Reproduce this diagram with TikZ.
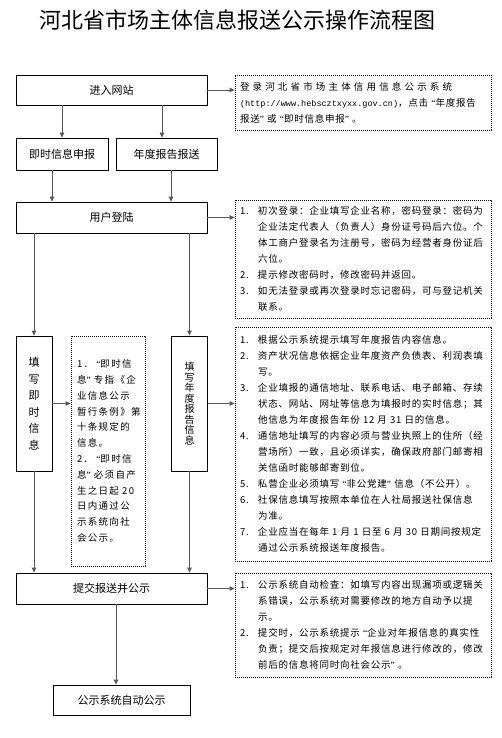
\documentclass[tikz,border=0pt]{standalone}
\usepackage{fontspec}
\setmainfont{Noto Sans CJK SC}
\newfontfamily\notefont[LetterSpace=8]{Noto Sans CJK SC}
\newfontfamily\widefont[LetterSpace=14]{Noto Sans CJK SC}
\newfontfamily\urlfont{Liberation Mono}
\newfontfamily\quotefont{Liberation Serif}
\usetikzlibrary{arrows.meta, positioning}
\newcommand{\nitem}[1]{\makebox[18pt][l]{#1.}}
\newcommand{\ncont}{\hspace*{18pt}}
\newcommand{\oq}{{\quotefont\ “}}
\newcommand{\cq}{{\quotefont ”\ }}

\begin{document}
\begin{tikzpicture}[
    x=1pt, y=-1pt,
    font=\fontsize{11}{13}\selectfont,
    stepbox/.style={rectangle, draw=black, line width=0.8pt, align=center, inner sep=0pt},
    note/.style={rectangle, draw=black, line width=0.8pt, dash pattern=on 0.8pt off 1.2pt, align=left, inner xsep=5pt, inner ysep=0pt, text width=246pt, font=\notefont\fontsize{9.5}{16}\selectfont},
    arr/.style={-{Triangle[length=5pt,width=4.5pt]}, line width=0.8pt, black!65},
  ]
  \fill[white] (0,0) rectangle (502,738);
  \useasboundingbox (0,0) rectangle (502,738);

  \node[font=\fontsize{22}{26}\selectfont] (title) at (237,20) {河北省市场主体信息报送公示操作流程图};

  % main steps
  \node[stepbox, minimum width=191pt, minimum height=30pt] (enter) at (111.5,90) {进入网站};
  \node[stepbox, minimum width=92pt, minimum height=32pt] (instant) at (62,154) {即时信息申报};
  \node[stepbox, minimum width=101pt, minimum height=32pt] (annual) at (166.5,154) {年度报告报送};
  \node[stepbox, minimum width=191pt, minimum height=31pt] (login) at (111.5,217.5) {用户登陆};
  \node[stepbox, minimum width=36pt, minimum height=135pt, font=\fontsize{11}{16.5}\selectfont] (fillinst) at (34,403.5) {填\\写\\即\\时\\信\\息};
  \node[stepbox, minimum width=36pt, minimum height=135pt, font=\fontsize{10}{10.5}\selectfont] (fillann) at (189.5,403.5) {填\\写\\年\\度\\报\\告\\信\\息};
  \node[stepbox, minimum width=191pt, minimum height=31pt] (submit) at (111.5,588.5) {提交报送并公示};
  \node[stepbox, minimum width=137pt, minimum height=30pt] (auto) at (121.5,700) {公示系统自动公示};

  % notes
  \node[note, minimum height=55pt] (webnote) at (363,102.5) {%
    \makebox[246pt][s]{登 录 河 北 省 市 场 主 体 信 用 信 息 公 示 系 统}\\
    {\urlfont\fontsize{8.5}{16}\selectfont (http://www.hebscztxyxx.gov.cn)}，点击\oq 年度报告\\
    报送\cq 或\oq 即时信息申报\cq 。};
  \node[note, minimum height=118pt] (loginnote) at (363,259) {%
    \nitem{1}初次登录：企业填写企业名称，密码登录：密码为\\
    \ncont 企业法定代表人（负责人）身份证号码后六位。个\\
    \ncont 体工商户登录名为注册号，密码为经营者身份证后\\
    \ncont 六位。\\
    \nitem{2}提示修改密码时，修改密码并返回。\\
    \nitem{3}如无法登录或再次登录时忘记密码，可与登记机关\\
    \ncont 联系。};
  \node[note, text width=62pt, inner xsep=6pt, minimum height=230pt, font=\widefont\fontsize{9.5}{15.8}\selectfont] (instnote) at (108,451) {%
    1．\oq 即时信\\
    息\cq 专指《企\\
    业信息公示\\
    暂行条例》第\\
    十条规定的\\
    信息。\\
    2．\oq 即时信\\
    息\cq 必须自产\\
    生之日起 20\\
    日内通过公\\
    示系统向社\\
    会公示。};
  \node[note, minimum height=234pt] (annnote) at (363,444) {%
    \nitem{1}根据公示系统提示填写年度报告内容信息。\\
    \nitem{2}资产状况信息依据企业年度资产负债表、利润表填\\
    \ncont 写。\\
    \nitem{3}企业填报的通信地址、联系电话、电子邮箱、存续\\
    \ncont 状态、网站、网址等信息为填报时的实时信息；其\\
    \ncont 他信息为年度报告年份 12 月 31 日的信息。\\
    \nitem{4}通信地址填写的内容必须与营业执照上的住所（经\\
    \ncont 营场所）一致，且必须详实，确保政府部门邮寄相\\
    \ncont 关信函时能够邮寄到位。\\
    \nitem{5}私营企业必须填写\oq 非公党建\cq 信息（不公开）。\\
    \nitem{6}社保信息填写按照本单位在人社局报送社保信息\\
    \ncont 为准。\\
    \nitem{7}企业应当在每年 1 月 1 日至 6 月 30 日期间按规定\\
    \ncont 通过公示系统报送年度报告。};
  \node[note, minimum height=104pt] (subnote) at (363,625) {%
    \nitem{1}公示系统自动检查：如填写内容出现漏项或逻辑关\\
    \ncont 系错误，公示系统对需要修改的地方自动予以提\\
    \ncont 示。\\
    \nitem{2}提交时，公示系统提示\oq 企业对年报信息的真实性\\
    \ncont 负责；提交后按规定对年报信息进行修改的，修改\\
    \ncont 前后的信息将同时向社会公示\cq 。};

  % connectors
  \draw[arr] (enter.east) -- (enter.east -| webnote.west);
  \draw[arr] (instant.north |- enter.south) -- (instant.north);
  \draw[arr] ([xshift=-4.5pt]annual.north |- enter.south) -- ([xshift=-4.5pt]annual.north);
  \draw[arr] ([xshift=-10pt]instant.south) -- ([xshift=-10pt]instant.south |- login.north);
  \draw[arr] ([xshift=4.5pt]annual.south) -- ([xshift=4.5pt]annual.south |- login.north);
  \draw[arr] (login.east) -- (login.east -| loginnote.west);
  \draw[arr] (fillinst.north |- login.south) -- (fillinst.north);
  \draw[arr] (fillann.north |- login.south) -- (fillann.north);
  \draw[arr] (fillinst.east) -- (fillinst.east -| instnote.west);
  \draw[arr] (fillann.east) -- (fillann.east -| annnote.west);
  \draw[arr] (fillinst.south) -- (fillinst.south |- submit.north);
  \draw[arr] (fillann.south) -- (fillann.south |- submit.north);
  \draw[arr] (submit.east) -- (submit.east -| subnote.west);
  \draw[arr] ([xshift=4.5pt]submit.south) -- ([xshift=4.5pt]submit.south |- auto.north);
\end{tikzpicture}
\end{document}
